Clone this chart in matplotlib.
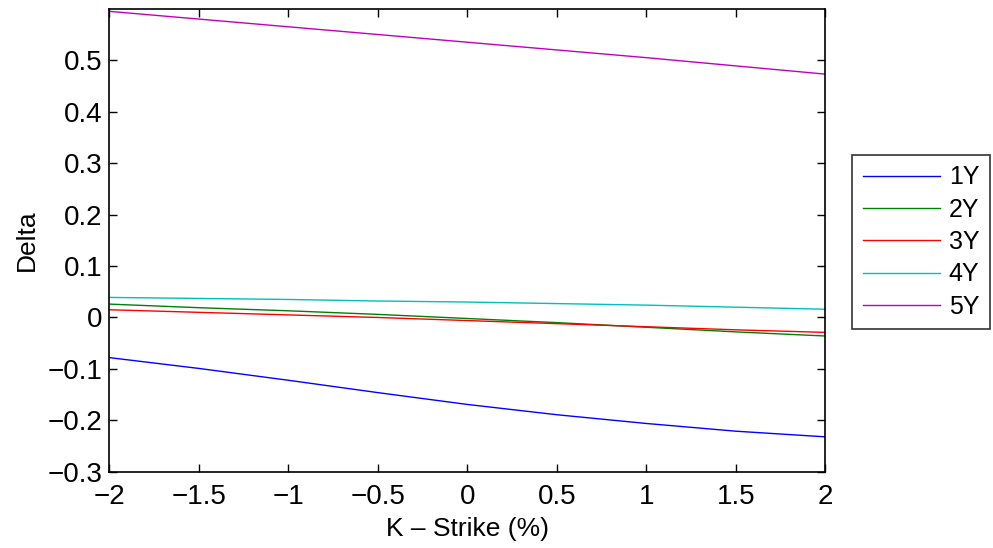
import matplotlib.pyplot as plt

plt.rcParams['font.family'] = ['Liberation Sans', 'DejaVu Sans']

# K - strike grid (%)
strike = [-2.0, -1.5, -1.0, -0.5, 0.0, 0.5, 1.0, 1.5, 2.0]

delta_1y = [-0.078, -0.099, -0.122, -0.146, -0.169, -0.189, -0.206, -0.221, -0.232]
delta_2y = [0.026, 0.019, 0.013, 0.006, -0.002, -0.010, -0.019, -0.028, -0.036]
delta_3y = [0.015, 0.010, 0.005, 0.000, -0.006, -0.012, -0.018, -0.024, -0.029]
delta_4y = [0.039, 0.037, 0.035, 0.032, 0.030, 0.027, 0.024, 0.020, 0.016]
delta_5y = [0.595, 0.580, 0.565, 0.550, 0.535, 0.520, 0.505, 0.489, 0.473]

labels = ['1Y', '2Y', '3Y', '4Y', '5Y']
colors = ['#0000ff', '#008000', '#ff0000', '#00bfbf', '#bf00bf']
series = [delta_1y, delta_2y, delta_3y, delta_4y, delta_5y]

fig = plt.figure(figsize=(9.93, 5.48), dpi=100)
ax = fig.add_axes([0.110, 0.139, 0.721, 0.845])

for vals, lab, col in zip(series, labels, colors):
    ax.plot(strike, vals, color=col, linewidth=1.0, label=lab)

ax.set_xlim(-2, 2)
ax.set_ylim(-0.3, 0.6)
ax.set_xticks([-2, -1.5, -1, -0.5, 0, 0.5, 1, 1.5, 2])
ax.set_xticklabels(['\u22122', '\u22121.5', '\u22121', '\u22120.5', '0', '0.5', '1', '1.5', '2'])
ax.set_yticks([-0.3, -0.2, -0.1, 0, 0.1, 0.2, 0.3, 0.4, 0.5])
ax.set_yticklabels(['\u22120.3', '\u22120.2', '\u22120.1', '0', '0.1', '0.2', '0.3', '0.4', '0.5'])
ax.tick_params(direction='in', top=True, right=True, labelsize=20, length=6, width=1)
ax.tick_params(axis='x', pad=9)
ax.tick_params(axis='y', pad=5)
for s in ax.spines.values():
    s.set_linewidth(1.2)

ax.set_xlabel('K \u2013 Strike (%)', fontsize=19, labelpad=5)
ax.set_ylabel('Delta', fontsize=19, labelpad=6)

leg = ax.legend(loc='upper left', bbox_to_anchor=(852 / 993, 1 - 155 / 548),
                bbox_transform=fig.transFigure, borderaxespad=0, fontsize=18,
                frameon=True, fancybox=False, edgecolor='black',
                handlelength=3.1, handletextpad=0.35, borderpad=0.42,
                labelspacing=0.33)
leg.get_frame().set_linewidth(1.2)

fig.savefig('out.png', dpi=100)
